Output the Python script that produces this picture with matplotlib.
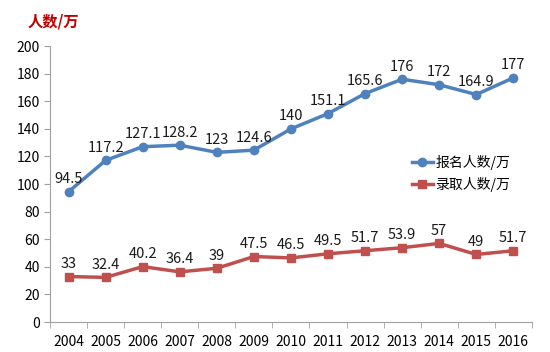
import matplotlib.pyplot as plt
import numpy as np

plt.rcParams['font.family'] = ['Noto Sans CJK SC', 'DejaVu Sans']

years = ['2004', '2005', '2006', '2007', '2008', '2009', '2010',
         '2011', '2012', '2013', '2014', '2015', '2016']
applicants = [94.5, 117.2, 127.1, 128.2, 123, 124.6, 140,
              151.1, 165.6, 176, 172, 164.9, 177]
admitted = [33, 32.4, 40.2, 36.4, 39, 47.5, 46.5,
            49.5, 51.7, 53.9, 57, 49, 51.7]

blue = '#4F81BD'
red = '#C0504D'
x = np.arange(len(years))

fig = plt.figure(figsize=(5.5, 3.52), dpi=100)
ax = fig.add_axes([0.091, 0.085, 0.876, 0.784])

ax.plot(x, applicants, color=blue, linewidth=2.5, marker='o', markersize=6,
        label='报名人数/万')
ax.plot(x, admitted, color=red, linewidth=2.5, marker='s', markersize=5.5,
        label='录取人数/万')

for xi, v in zip(x, applicants):
    ax.annotate(f'{v:g}', (xi, v), xytext=(0, 4), textcoords='offset points',
                ha='center', va='bottom', fontsize=10.5, color='#1a1a1a')
for xi, v in zip(x, admitted):
    ax.annotate(f'{v:g}', (xi, v), xytext=(0, 4), textcoords='offset points',
                ha='center', va='bottom', fontsize=10.5, color='#1a1a1a')

ax.set_xlim(-0.5, len(years) - 0.5)
ax.set_ylim(0, 200)
ax.set_yticks(range(0, 201, 20))
ax.set_xticks(x)
ax.set_xticklabels(years)
ax.set_xticks(np.arange(-0.5, len(years), 1), minor=True)
ax.tick_params(axis='x', which='major', length=0, pad=9, labelsize=10)
ax.tick_params(axis='x', which='minor', length=4, color='#a0a0a0')
ax.tick_params(axis='y', length=4, color='#a0a0a0', labelsize=10)

for s in ['top', 'right']:
    ax.spines[s].set_visible(False)
for s in ['left', 'bottom']:
    ax.spines[s].set_color('#a0a0a0')

fig.text(0.05, 0.925, '人数/万', color='#C00000', fontsize=11, fontweight='bold')

ax.legend(loc='upper left', bbox_to_anchor=(0.725, 0.65), frameon=False,
          fontsize=10, handlelength=1.5, handletextpad=0.2, labelspacing=0.5)

fig.savefig('out.png')
